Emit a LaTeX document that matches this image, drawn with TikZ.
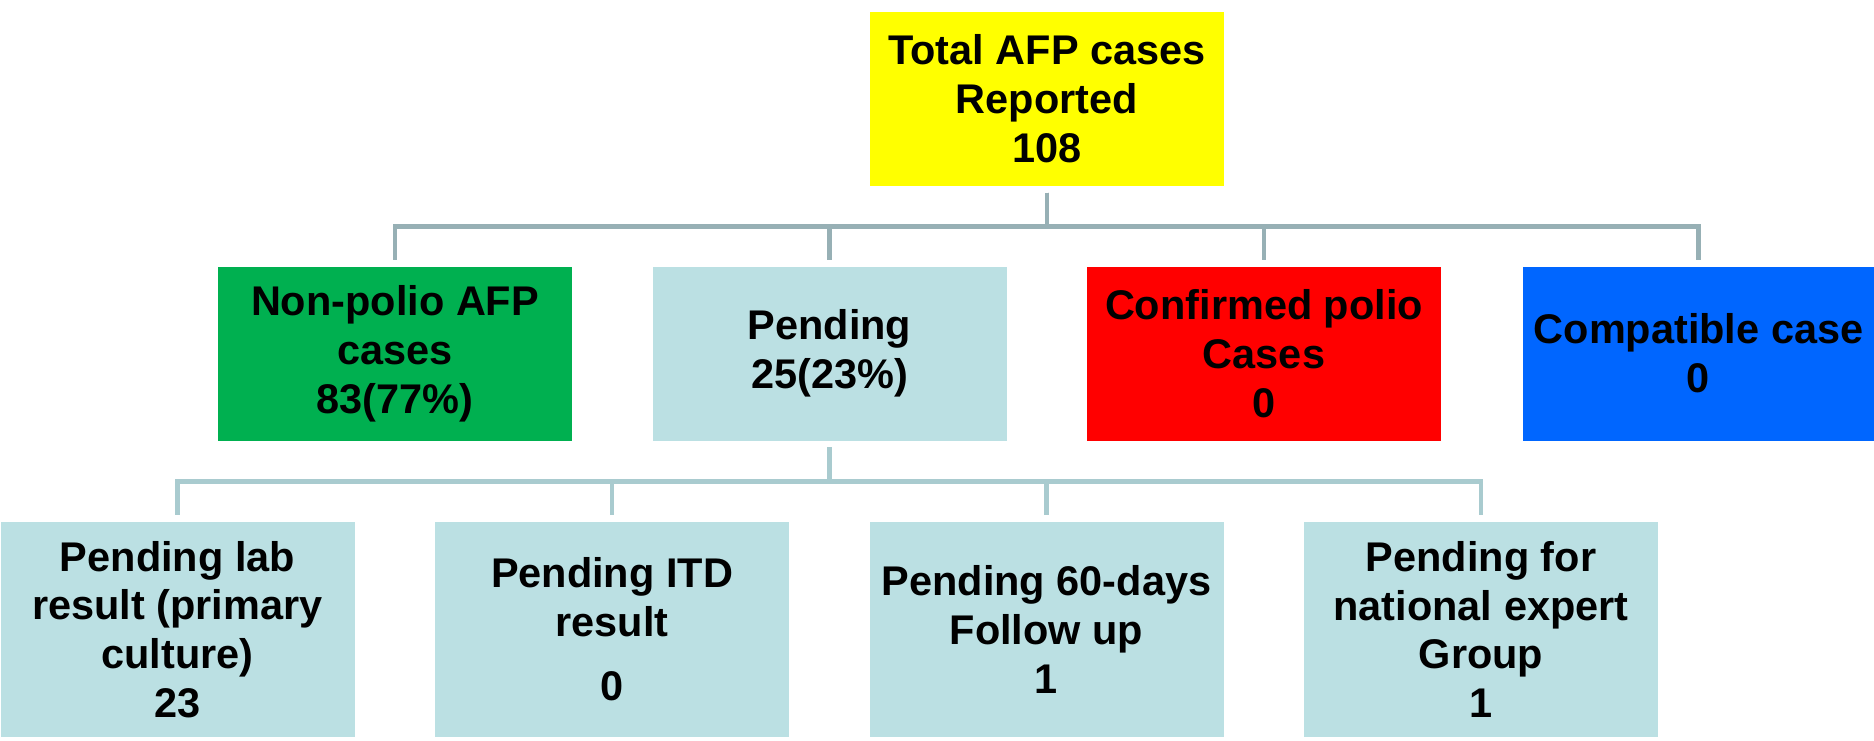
\documentclass[tikz,border=0pt]{standalone}
\usepackage{fontspec}
\setmainfont{Liberation Sans}
\definecolor{afpyellow}{HTML}{FFFF00}
\definecolor{afpgreen}{HTML}{00B050}
\definecolor{afppend}{HTML}{BBE0E3}
\definecolor{afpred}{HTML}{FF0000}
\definecolor{afpblue}{HTML}{0066FF}
\definecolor{linetop}{HTML}{97B0B5}
\definecolor{linelow}{HTML}{A9CBCF}
\begin{document}
\begin{tikzpicture}[x=.1mm,y=-.1mm,
 box/.style={minimum width=35.4mm,minimum height=17.4mm,inner sep=0pt,align=center,font=\fontsize{11.8}{13.9}\selectfont\bfseries},
 tall/.style={box,fill=afppend,minimum height=21.5mm},
 link/.style={draw=#1,line width=1.4pt,shorten <=.6mm,shorten >=.6mm}]
\useasboundingbox (0,0) rectangle (1874,741);
\path (1047,99) node[box,fill=afpyellow](total){Total AFP cases\\Reported\\108}
(395,353.5) node[box,fill=afpgreen](nonpolio){Non-polio AFP\\cases\\83(77\%)}
++(434.5,0) node[box,fill=afppend](pending){Pending\\25(23\%)}
++(434.5,0) node[box,fill=afpred](confirmed){Confirmed polio\\Cases\\0}
++(434.5,0) node[box,fill=afpblue,minimum width=35.2mm](compatible){Compatible case\\0};
\path (177.5,629.5) node[tall](lab){Pending lab\\result (primary\\culture)\\23}
++(434.5,0) node[tall](itd){Pending ITD\\result\\[1.5mm]0}
++(434.5,0) node[tall](followup){Pending 60-days\\Follow up\\1}
++(434.5,0) node[tall](expert){Pending for\\national expert\\Group\\1};
\foreach \n in {nonpolio,pending,confirmed,compatible}
  \draw[link=linetop] (total.south) -- ++(0,40) -| (\n.north);
\foreach \n in {lab,itd,followup,expert}
  \draw[link=linelow] (pending.south) -- ++(0,40) -| (\n.north);
\end{tikzpicture}
\end{document}
